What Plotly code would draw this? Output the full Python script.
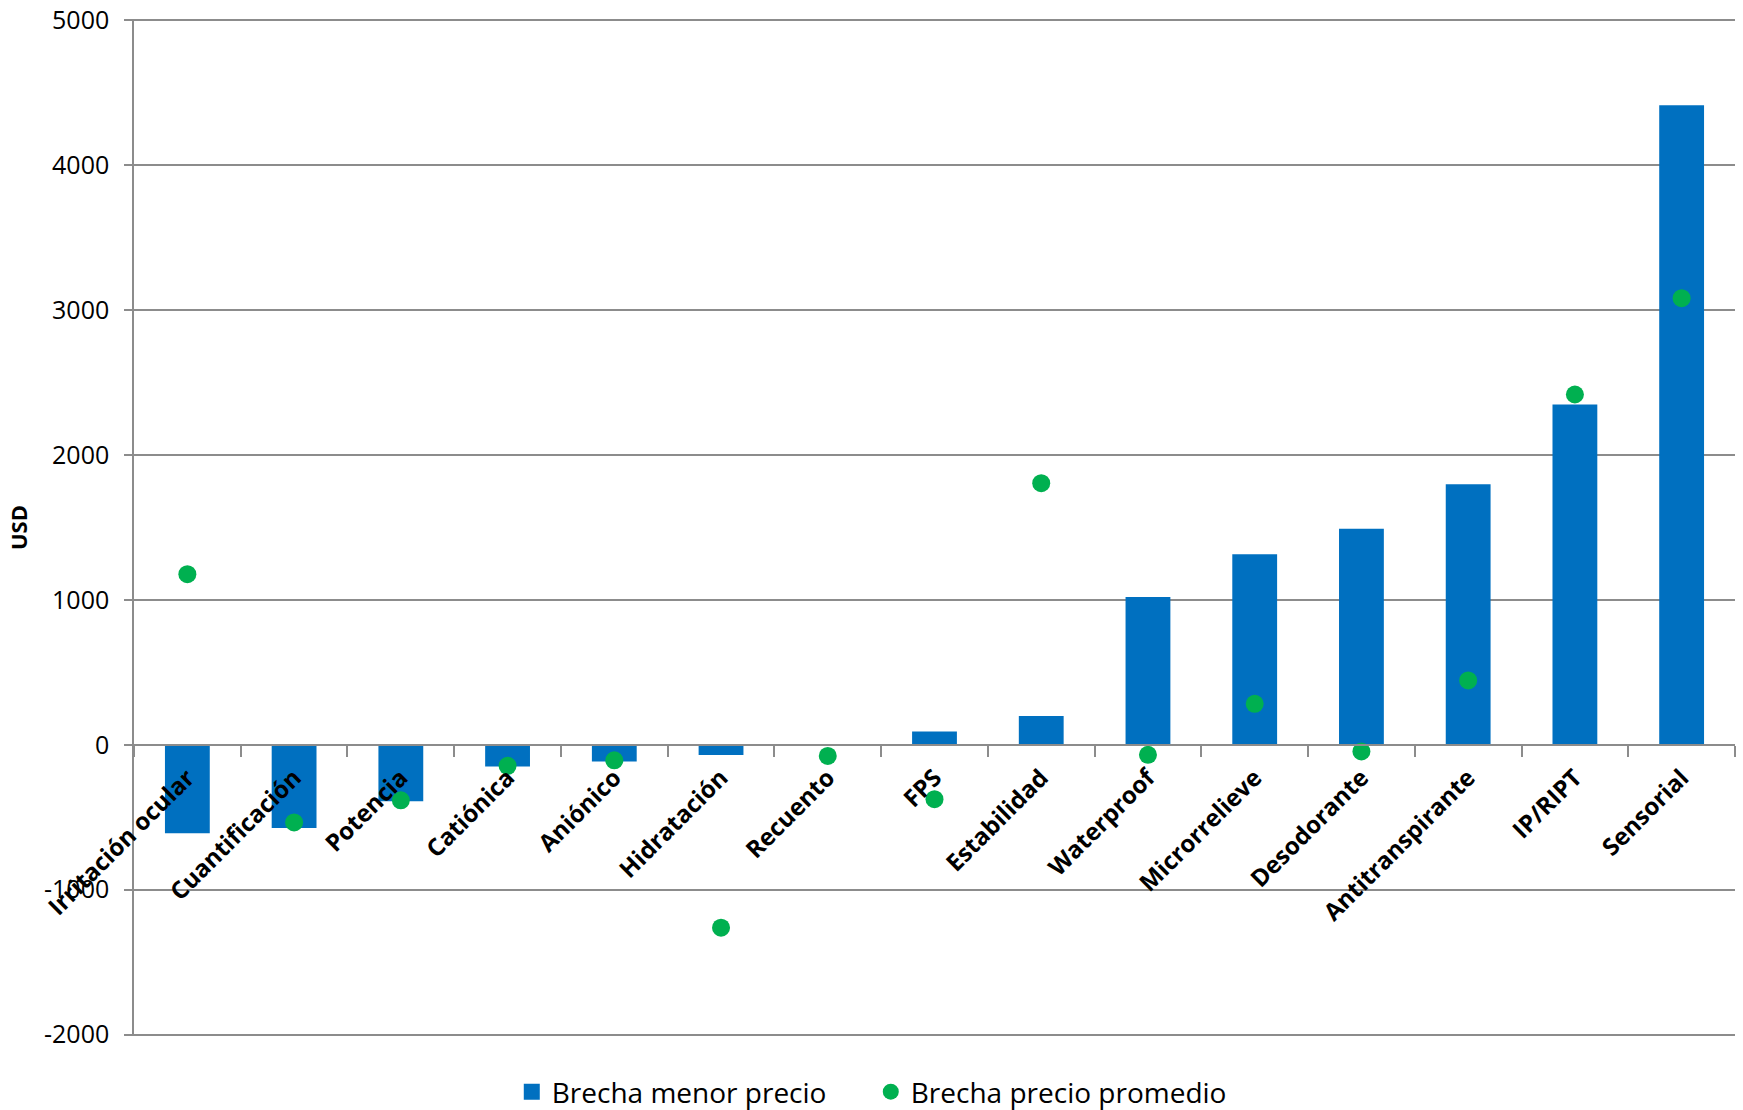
import plotly.graph_objects as go

categories = ["Irritación ocular", "Cuantificación", "Potencia", "Catiónica", "Aniónico",
              "Hidratación", "Recuento", "FPS", "Estabilidad", "Waterproof",
              "Microrrelieve", "Desodorante", "Antitranspirante", "IP/RIPT", "Sensorial"]
brecha_menor = [-610, -575, -390, -150, -115, -70, -8, 92, 199, 1020, 1316, 1492, 1798, 2349, 4415]
brecha_promedio = [1178, -536, -383, -145, -107, -1262, -77, -375, 1806, -69, 283, -46, 444, 2418, 3083]
y_ticks = [-2000, -1000, 0, 1000, 2000, 3000, 4000, 5000]

FONT = "Open Sans"
GRID = "#8c8c8c"
BLUE = "#0070C0"
GREEN = "#00B050"

fig = go.Figure()
fig.add_trace(go.Bar(x=categories, y=brecha_menor, name="Brecha menor precio",
                     marker=dict(color=BLUE, line=dict(width=0)), showlegend=False))
# legend proxy for the bars (larger square symbol)
fig.add_trace(go.Scatter(x=[None], y=[None], name="Brecha menor precio", mode="markers",
                         marker=dict(color=BLUE, size=16, symbol="square")))
fig.add_trace(go.Scatter(x=categories, y=brecha_promedio, name="Brecha precio promedio",
                         mode="markers", marker=dict(color=GREEN, size=18)))

fig.update_layout(
    width=1743, height=1110,
    margin=dict(l=134, r=8, t=19, b=74, autoexpand=False),
    paper_bgcolor="white", plot_bgcolor="white",
    bargap=0.58,
    font=dict(family=FONT, color="black"),
    showlegend=True,
    legend=dict(orientation="h", x=0.4602, xanchor="center", y=-0.055, yanchor="middle",
                font=dict(family=FONT, size=28), itemsizing="trace", entrywidth=314,
                bgcolor="rgba(0,0,0,0)"),
)
fig.update_xaxes(
    type="category", anchor="free", position=2/7, automargin=False,
    range=[-0.5, len(categories) - 0.5],
    showline=True, linecolor=GRID, linewidth=1.5,
    ticks="outside", tickson="boundaries", ticklen=11, tickcolor=GRID, tickwidth=1.5,
    tickangle=-45, showgrid=False, zeroline=False, ticklabelstandoff=8,
    tickfont=dict(family=FONT, size=24, color="black", weight="bold"),
)
fig.update_yaxes(
    range=[-2010, 5010], tickvals=y_ticks, ticktext=[str(v) for v in y_ticks],
    automargin=False,
    showgrid=True, gridcolor=GRID, gridwidth=1.5,
    showline=True, linecolor=GRID, linewidth=1.5,
    ticks="outside", ticklen=8, tickcolor=GRID, tickwidth=1.5,
    zeroline=False, ticklabelstandoff=10,
    tickfont=dict(family=FONT, size=25, color="black"),
    title=dict(text="<b>USD</b>", font=dict(family=FONT, size=22), standoff=10),
)

fig.write_html("out.html", config={"displayModeBar": False},
               post_script="document.body.style.margin='0';")
